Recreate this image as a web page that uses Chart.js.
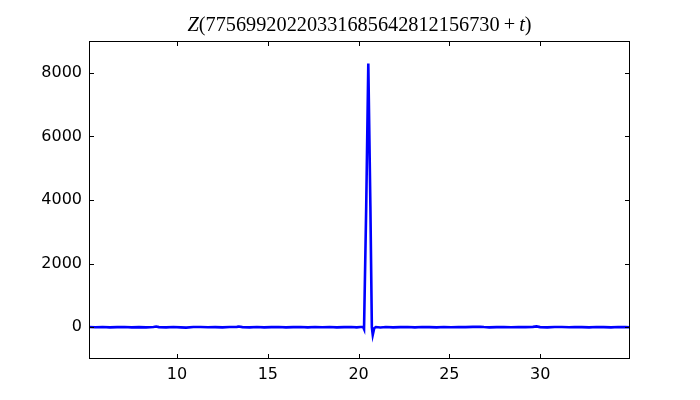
<!DOCTYPE html>
<html>
<head>
<meta charset="utf-8">
<script src="https://cdn.jsdelivr.net/npm/chart.js@4/dist/chart.umd.min.js"></script>
<style>
  html, body { margin: 0; padding: 0; background: #fff; }
  #wrap { width: 700px; height: 400px; }
</style>
</head>
<body>
<div id="wrap"><canvas id="c" width="700" height="400"></canvas></div>
<script>
// ---- data ----
const tValues = [
  5.15, 5.5, 5.9, 6.3, 6.7, 7.1, 7.5, 7.9, 8.3, 8.7, 8.85, 9.0, 9.4, 9.8,
  10.2, 10.5, 10.9, 11.3, 11.7, 12.1, 12.5, 12.9, 13.3, 13.4, 13.6, 14.0,
  14.4, 14.8, 15.2, 15.6, 16.0, 16.4, 16.8, 17.2, 17.6, 18.0, 18.4, 18.8,
  19.2, 19.6, 19.9, 20.1, 20.25, 20.30, 20.42, 20.535, 20.65, 20.73, 20.78,
  20.86, 20.95, 21.2, 21.5, 21.9, 22.3, 22.7, 23.1, 23.5, 23.9, 24.3, 24.7,
  25.1, 25.5, 25.9, 26.3, 26.7, 26.9, 27.2, 27.6, 28.0, 28.4, 28.8, 29.2,
  29.6, 29.8, 30.0, 30.4, 30.8, 31.2, 31.6, 31.9, 32.3, 32.7, 33.1, 33.5,
  33.9, 34.3, 34.7, 35.0
];
const zValues = [
  5, -3, 6, -5, 3, 6, -4, 3, -6, 8, 22, 3, -5, 4,
  -6, -12, 5, 8, -3, 2, -6, 5, 10, 20, 3, -6,
  5, -4, 3, 6, -5, 3, 7, -4, 5, -3, 6, -5,
  3, 4, -5, 6, 5, -60, 3800, 8290, 3800, 0, -240,
  -30, 6, -8, 6, -4, 3, 7, -5, 4, 2, -6, 5,
  -3, 6, 3, 9, 15, 5, -4, 3, 6, -3, 5, 2,
  10, 25, 3, -5, 4, 6, -3, 8, 3, -4, 5, 2,
  -6, 4, 3, 0
];
const xTickValues = [10, 15, 20, 25, 30];
const yTickValues = [0, 2000, 4000, 6000, 8000];
const xRange = [5.15, 34.95];
const yRange = [-1000, 9000];
const titleParts = [
  { text: 'Z', italic: true },
  { text: '(77569920220331685642812156730', italic: false },
  { text: '\u2009+\u2009', italic: false },
  { text: 't', italic: true },
  { text: ')', italic: false }
];

const points = tValues.map((t, i) => ({ x: t, y: zValues[i] }));

const frame = {
  id: 'frame',
  afterDraw(chart) {
    const ctx = chart.ctx;
    const a = chart.chartArea;
    const xs = chart.scales.x, ys = chart.scales.y;
    ctx.save();
    ctx.strokeStyle = '#000';
    ctx.lineWidth = 1;
    ctx.strokeRect(Math.round(a.left) + 0.5, Math.round(a.top) + 0.5,
                   Math.round(a.right - a.left) - 1, Math.round(a.bottom - a.top) - 1);
    const L = 5;
    ctx.beginPath();
    xs.ticks.forEach(tk => {
      const px = Math.round(xs.getPixelForValue(tk.value)) + 0.5;
      ctx.moveTo(px, a.bottom); ctx.lineTo(px, a.bottom - L);
      ctx.moveTo(px, a.top); ctx.lineTo(px, a.top + L);
    });
    ys.ticks.forEach(tk => {
      const py = Math.round(ys.getPixelForValue(tk.value)) + 0.5;
      ctx.moveTo(a.left, py); ctx.lineTo(a.left + L, py);
      ctx.moveTo(a.right, py); ctx.lineTo(a.right - L, py);
    });
    ctx.stroke();
    // title
    const size = 20.3;
    const fam = '"Liberation Serif", "DejaVu Serif", serif';
    let total = 0;
    const widths = titleParts.map(p => {
      ctx.font = (p.italic ? 'italic ' : '') + size + 'px ' + fam;
      const w = ctx.measureText(p.text).width;
      total += w;
      return w;
    });
    let x = (a.left + a.right) / 2 - total / 2;
    ctx.fillStyle = '#000';
    ctx.textBaseline = 'alphabetic';
    ctx.textAlign = 'left';
    titleParts.forEach((p, i) => {
      ctx.font = (p.italic ? 'italic ' : '') + size + 'px ' + fam;
      ctx.fillText(p.text, x, 31);
      x += widths[i];
    });
    ctx.restore();
  }
};

new Chart(document.getElementById('c'), {
  type: 'line',
  data: {
    datasets: [{
      data: points,
      borderColor: '#0000ff',
      borderWidth: 2.6,
      pointRadius: 0,
      tension: 0,
      fill: false
    }]
  },
  options: {
    responsive: false,
    animation: false,
    events: [],
    layout: { padding: { left: 0, right: 70, top: 41, bottom: 0 } },
    plugins: { legend: { display: false }, tooltip: { enabled: false }, title: { display: false } },
    scales: {
      x: {
        type: 'linear',
        min: xRange[0], max: xRange[1],
        afterBuildTicks: s => { s.ticks = xTickValues.map(v => ({ value: v })); },
        afterFit: s => { s.height = 41; },
        grid: { display: false, drawTicks: false },
        border: { display: false },
        ticks: { color: '#000', padding: 6, font: { family: '"DejaVu Sans"', size: 16 } }
      },
      y: {
        type: 'linear',
        min: yRange[0], max: yRange[1],
        afterBuildTicks: s => { s.ticks = yTickValues.map(v => ({ value: v })); },
        afterFit: s => { s.width = 89; },
        grid: { display: false, drawTicks: false },
        border: { display: false },
        ticks: { color: '#000', padding: 7, font: { family: '"DejaVu Sans"', size: 16 },
                 callback: v => String(v) }
      }
    }
  },
  plugins: [frame]
});
</script>
</body>
</html>
